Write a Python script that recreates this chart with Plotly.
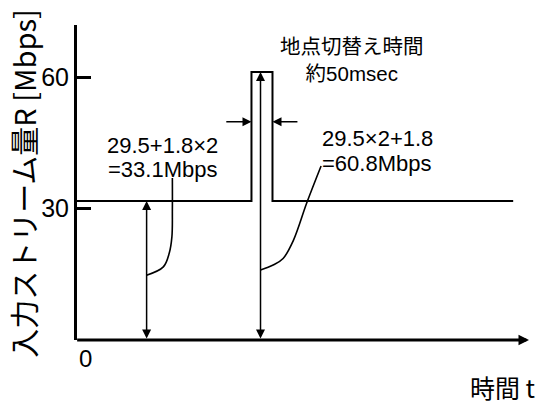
import plotly.graph_objects as go

# --- data (time in arbitrary units, rate in Mbps) ---
signal_t = [0, 38.6, 38.6, 43.25, 43.25, 96.5]
signal_r = [31.7, 31.7, 61.2, 61.2, 31.7, 31.7]

normal_arrow_t = 15.4
normal_rate = 31.7
peak_arrow_t = 40.6
peak_rate = 61.2

switch_start = 38.6
switch_end = 43.25
switch_arrow_level = 49.8
switch_arrow_left_from = 32.7
switch_arrow_right_from = 49.1

leader1_t = [15.4, 19.1, 20.4, 21.0, 21.1, 21.1]
leader1_r = [14.8, 16.7, 19.8, 23.6, 29.7, 37.0]
leader2_t = [40.6, 43.4, 45.6, 47.9, 50.8, 54.0]
leader2_r = [16.0, 17.1, 18.6, 22.8, 31.2, 39.7]

y_ticks = [30, 60]
y_tick_labels = ["30", "60"]

LATIN = "Liberation Sans, Arial, sans-serif"
CJK = "Noto Sans CJK JP, sans-serif"
MIXED = "Liberation Sans, Noto Sans CJK JP, sans-serif"

fig = go.Figure()

fig.add_trace(go.Scatter(x=signal_t, y=signal_r, mode="lines",
                         line=dict(color="black", width=2), hoverinfo="skip"))
fig.add_trace(go.Scatter(x=leader1_t, y=leader1_r, mode="lines",
                         line=dict(color="black", width=1.6, shape="spline"), hoverinfo="skip"))
fig.add_trace(go.Scatter(x=leader2_t, y=leader2_r, mode="lines",
                         line=dict(color="black", width=1.6, shape="spline"), hoverinfo="skip"))

ann = []
# x axis with arrow
ann.append(dict(x=100, y=0, ax=-0.3, ay=0, xref="x", yref="y", axref="x", ayref="y",
                text="", showarrow=True, arrowhead=2, arrowsize=0.7, arrowwidth=3,
                arrowcolor="black", standoff=0, startstandoff=0))
# double-headed vertical arrows
ann.append(dict(x=normal_arrow_t, y=normal_rate, ax=normal_arrow_t, ay=0, xref="x", yref="y",
                axref="x", ayref="y", text="", showarrow=True, arrowhead=2, startarrowhead=2,
                arrowside="end+start", arrowsize=1.2, startarrowsize=1.2, arrowwidth=1.5, arrowcolor="black",
                standoff=0, startstandoff=0))
ann.append(dict(x=peak_arrow_t, y=peak_rate, ax=peak_arrow_t, ay=0, xref="x", yref="y",
                axref="x", ayref="y", text="", showarrow=True, arrowhead=2, startarrowhead=2,
                arrowside="end+start", arrowsize=1.2, startarrowsize=1.2, arrowwidth=1.5, arrowcolor="black",
                standoff=0, startstandoff=0))
# switch time arrows
ann.append(dict(x=switch_start, y=switch_arrow_level, ax=switch_arrow_left_from, ay=switch_arrow_level,
                xref="x", yref="y", axref="x", ayref="y", text="", showarrow=True, arrowhead=2,
                arrowsize=1.2, arrowwidth=1.5, arrowcolor="black", standoff=0, startstandoff=0))
ann.append(dict(x=switch_end, y=switch_arrow_level, ax=switch_arrow_right_from, ay=switch_arrow_level,
                xref="x", yref="y", axref="x", ayref="y", text="", showarrow=True, arrowhead=2,
                arrowsize=1.2, arrowwidth=1.5, arrowcolor="black", standoff=0, startstandoff=0))

def txt(x, y, s, size, fam, ref="x", **kw):
    d = dict(x=x, y=y, xref=ref if ref == "x" else "paper", yref="y" if ref == "x" else "paper",
             text=s, showarrow=False, xanchor="center", yanchor="middle",
             font=dict(family=fam, size=size, color="black"))
    d.update(kw)
    ann.append(d)

txt(19.0, 44.3, "29.5+1.8×2", 22, LATIN)
txt(19.0, 39.0, "=33.1Mbps", 22, LATIN)
txt(66.4, 46.1, "29.5×2+1.8", 22, LATIN)
txt(66.2, 40.4, "=60.8Mbps", 22, LATIN)
txt(60.8, 63.9, "地点切替え時間<br>約50msec", 20.5, MIXED)
txt(0.0177, -0.060, "0", 24, LATIN, ref="paper")
txt(0.9425, -0.149, "時間 t", 25, CJK, ref="paper")
txt(-0.1195, 0.499, "入力ストリーム量R [Mbps]", 29, CJK, ref="paper", textangle=-90)

fig.update_layout(
    width=545, height=407,
    margin=dict(l=77, r=16, t=25, b=67),
    paper_bgcolor="white", plot_bgcolor="white",
    showlegend=False,
    annotations=ann,
    xaxis=dict(range=[0, 100], visible=False, fixedrange=True),
    yaxis=dict(range=[0, 71.9], showgrid=False, zeroline=False, showline=True,
               linewidth=3, linecolor="black", ticks="inside", ticklen=14, tickwidth=3,
               tickcolor="black", tickvals=y_ticks, ticktext=y_tick_labels,
               tickfont=dict(family=LATIN, size=25, color="black"), fixedrange=True),
)

fig.write_html("out.html", config={"displayModeBar": False},
               post_script="document.body.style.margin='0';document.body.style.overflow='hidden';")
